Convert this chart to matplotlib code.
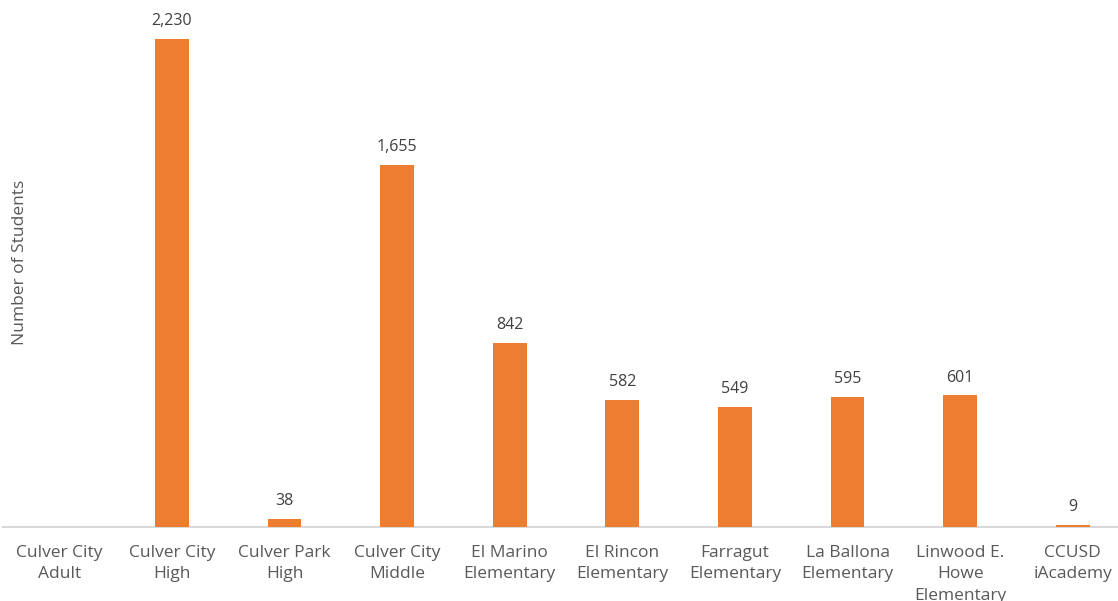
import matplotlib
matplotlib.use("Agg")
import matplotlib.pyplot as plt
import numpy as np

categories = ["Culver City\nAdult", "Culver City\nHigh", "Culver Park\nHigh", "Culver City\nMiddle",
              "El Marino\nElementary", "El Rincon\nElementary", "Farragut\nElementary",
              "La Ballona\nElementary", "Linwood E.\nHowe\nElementary", "CCUSD\niAcademy"]
students = [None, 2230, 38, 1655, 842, 582, 549, 595, 601, 9]

plt.rcParams['font.family'] = ['Open Sans', 'DejaVu Sans']

fig = plt.figure(figsize=(11.18, 6.01), dpi=100)
W, H = 1118, 601
left, right = 3, 1129
bottom, top = 527, 0
ax = fig.add_axes([left / W, 1 - bottom / H, (right - left) / W, (bottom - top) / H])

x = np.arange(len(categories))
vals = [v if v is not None else 0 for v in students]
bars = ax.bar(x, vals, width=0.30, color="#ED7D31", zorder=3)
for xi, v in zip(x, students):
    if v is not None:
        ax.text(xi, v + 45, f"{v:,}", ha="center", va="bottom", fontsize=11.5, color="#404040")

ax.set_xlim(-0.5, len(categories) - 0.5)
ax.set_ylim(0, 2408)
for s in ["top", "right", "left"]:
    ax.spines[s].set_visible(False)
ax.spines["bottom"].set_color("#D9D9D9")
ax.spines["bottom"].set_linewidth(1.5)
ax.spines["bottom"].set_zorder(1)
ax.set_yticks([])
ax.set_xticks(x)
ax.set_xticklabels(categories, fontsize=12.5, color="#595959", linespacing=1.45)
ax.tick_params(axis="x", length=0, pad=13)

fig.text(20 / W, 1 - 262 / H, "Number of Students", rotation=90, ha="center", va="center",
         fontsize=12.5, color="#595959")

fig.savefig("out.png", dpi=100)
